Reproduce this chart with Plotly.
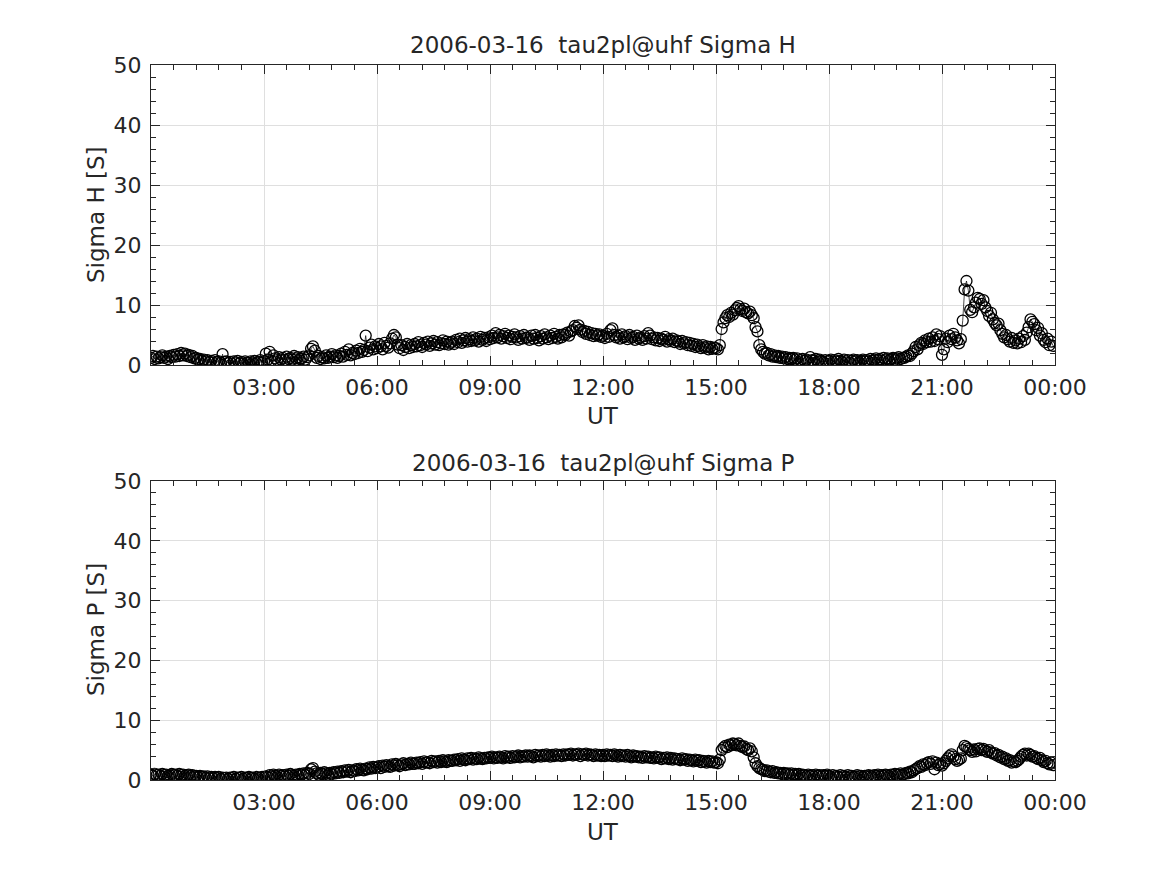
import pandas as pd
import plotly.graph_objects as go

# ---- data (3-minute samples, 2006-03-16), one row per hour ----
date_str = "2006-03-16"
sample_freq = "3min"

sigma_h = [
    1.2,1.5,1.0,1.4,1.1,1.3,1.6,1.2,1.4,1.0,1.5,1.3,1.7,1.4,1.8,1.5,2.0,1.6,1.9,1.5,
    1.7,1.3,1.5,1.1,1.2,0.9,1.0,0.7,0.9,0.6,0.8,0.5,0.7,0.4,0.8,0.5,0.6,0.4,1.8,0.5,
    0.6,0.3,0.5,0.2,0.6,0.4,0.7,0.3,0.5,0.2,0.6,0.4,0.3,0.6,0.4,0.7,0.3,0.5,0.8,0.4,
    0.6,1.9,0.9,2.2,0.7,1.6,1.1,0.8,1.3,0.9,1.2,0.8,1.4,1.0,1.2,0.9,1.5,1.1,1.3,1.0,
    1.1,1.4,0.9,1.3,1.6,2.7,3.1,2.4,1.2,1.5,1.0,1.3,1.1,1.6,1.2,1.4,1.8,1.3,1.6,1.2,
    1.5,1.9,1.4,2.2,1.7,2.6,1.6,2.0,1.8,2.4,2.0,2.7,2.2,2.5,4.9,2.3,2.9,3.4,2.6,3.1,
    2.8,3.5,3.1,2.6,3.7,3.2,2.9,3.6,4.4,5.0,4.6,3.4,2.8,3.3,2.5,3.0,3.5,2.8,3.3,3.0,
    3.5,3.1,3.8,3.3,3.0,3.7,3.4,3.9,3.2,3.6,4.0,3.4,3.8,3.3,3.6,4.1,3.5,3.9,3.4,3.7,
    3.9,3.5,4.2,3.8,4.4,3.7,4.1,4.5,3.9,4.3,4.0,4.6,4.1,4.4,3.9,4.7,4.2,4.5,4.0,4.6,
    4.3,4.9,4.5,5.3,4.6,5.0,4.4,4.8,5.2,4.5,4.9,4.3,4.7,5.1,4.6,4.2,4.8,4.4,5.0,4.5,
    4.6,4.2,4.9,4.4,5.0,4.5,4.1,4.8,4.4,5.1,4.6,4.3,4.9,4.5,5.2,4.7,4.4,5.0,4.6,5.1,
    5.0,5.4,4.9,5.6,5.8,6.5,6.2,6.6,5.9,5.5,5.7,5.2,5.5,5.0,5.3,4.8,5.2,4.9,5.1,4.7,
    4.9,4.5,5.2,4.7,5.8,6.1,5.0,4.6,4.9,4.4,5.1,4.6,4.8,4.3,5.0,4.5,4.7,4.2,4.9,4.4,
    4.6,4.2,4.8,4.4,5.3,4.9,4.3,4.6,4.1,4.5,4.0,4.4,4.2,4.7,3.9,4.3,4.0,4.4,3.8,4.1,
    3.9,3.5,4.0,3.6,3.8,3.3,3.7,3.2,3.5,3.0,3.4,3.1,2.8,3.3,2.9,3.1,2.6,3.0,2.7,2.9,
    2.8,2.6,3.3,6.0,7.1,7.8,8.3,8.0,8.7,8.4,9.1,9.5,9.8,9.3,9.0,9.4,8.8,8.6,8.9,8.3,
    7.8,6.3,5.6,3.3,2.6,2.2,1.9,2.0,1.6,1.8,1.4,1.6,1.3,1.5,1.2,1.4,1.1,1.3,1.0,1.2,
    1.0,1.2,0.9,1.1,0.2,0.8,1.0,0.7,0.9,0.6,1.3,0.8,0.7,1.0,0.6,0.9,0.7,0.5,0.8,0.6,
    0.7,0.9,0.5,0.8,0.6,1.0,0.7,0.5,0.9,0.6,0.8,0.4,0.7,0.9,0.6,0.8,0.5,0.7,0.9,0.6,
    0.8,0.6,1.0,0.7,0.9,1.1,0.8,1.0,0.7,1.2,0.9,1.1,0.8,1.0,1.2,0.9,1.1,1.3,1.0,1.2,
    1.2,1.4,1.6,1.5,1.9,2.3,3.0,2.6,3.3,3.7,3.5,4.1,3.8,4.4,3.9,4.6,4.0,5.1,4.3,4.8,
    1.7,2.6,4.4,3.8,4.9,4.3,5.2,4.6,4.1,3.6,4.3,7.4,12.6,14.0,12.4,9.2,8.8,9.6,10.4,11.2,
    11.0,10.2,10.8,9.6,9.0,8.2,8.7,7.6,7.0,6.6,6.9,5.8,5.2,4.6,5.0,4.3,3.9,4.5,3.7,4.1,
    3.6,4.4,3.8,4.8,4.2,5.4,6.3,7.6,7.2,6.8,5.8,6.2,4.9,5.3,4.2,3.8,4.4,3.3,3.9,3.2,
]

sigma_p = [
    0.9,0.7,1.0,0.8,0.9,0.7,1.0,0.8,0.9,0.7,0.8,1.0,0.8,0.9,0.7,1.0,0.8,0.9,0.7,0.8,
    0.9,0.7,0.8,0.6,0.7,0.5,0.7,0.5,0.6,0.4,0.6,0.4,0.5,0.3,0.5,0.3,0.5,0.2,0.4,0.3,
    0.4,0.2,0.4,0.3,0.5,0.2,0.4,0.3,0.5,0.2,0.4,0.3,0.5,0.3,0.4,0.2,0.5,0.3,0.4,0.5,
    0.4,0.6,0.5,0.8,0.6,0.9,0.7,0.6,0.9,0.7,0.8,0.6,0.9,0.7,1.0,0.8,0.7,0.9,0.8,1.0,
    0.9,1.1,0.8,1.2,1.0,1.8,2.0,1.4,1.1,0.9,1.2,1.0,1.3,1.1,0.9,1.2,1.0,1.3,1.1,1.4,
    1.2,1.5,1.3,1.6,1.4,1.7,1.3,1.6,1.5,1.8,1.6,1.9,1.7,1.6,1.9,1.8,2.1,1.9,2.2,2.0,
    2.1,2.3,2.0,2.4,2.2,2.5,2.3,2.2,2.6,2.4,2.7,2.5,2.3,2.6,2.8,2.5,2.7,2.6,2.9,2.7,
    2.7,2.9,2.8,3.0,2.7,3.1,2.9,3.0,2.8,3.2,3.0,3.1,2.9,3.2,3.0,3.3,3.1,3.0,3.3,3.2,
    3.2,3.4,3.3,3.5,3.2,3.6,3.4,3.3,3.6,3.5,3.7,3.4,3.6,3.5,3.8,3.6,3.5,3.7,3.6,3.8,
    3.7,3.9,3.6,3.8,3.7,3.9,3.8,3.6,4.0,3.8,3.9,3.7,4.0,3.8,3.9,4.1,3.8,4.0,3.9,4.1,
    3.9,4.1,4.0,3.8,4.2,4.0,4.1,3.9,4.2,4.0,4.3,4.1,3.9,4.2,4.0,4.3,4.1,4.2,4.0,4.3,
    4.1,4.3,4.2,4.4,4.1,4.3,4.2,4.4,4.0,4.3,4.2,4.4,4.1,4.3,4.2,4.0,4.3,4.1,4.2,4.0,
    4.2,4.0,4.3,4.1,4.2,4.0,4.3,4.1,3.9,4.2,4.0,4.1,3.9,4.2,4.0,3.8,4.1,3.9,4.0,3.8,
    3.9,3.7,4.0,3.8,3.9,3.7,3.8,3.6,3.9,3.7,3.8,3.5,3.7,3.6,3.8,3.5,3.7,3.4,3.6,3.5,
    3.5,3.3,3.6,3.4,3.5,3.2,3.4,3.3,3.1,3.4,3.2,3.3,3.0,3.2,3.1,2.9,3.2,3.0,3.1,2.9,
    3.0,2.8,3.4,5.0,5.4,5.7,5.5,5.9,5.8,6.1,6.0,5.8,6.1,5.7,5.5,5.6,5.2,5.0,5.3,4.8,
    3.8,2.8,2.3,2.0,1.8,1.7,1.5,1.6,1.4,1.3,1.5,1.2,1.3,1.1,1.2,1.0,1.2,1.0,1.1,0.9,
    1.1,0.9,1.0,0.8,1.0,0.7,0.9,0.8,0.6,0.9,0.7,0.8,0.6,0.9,0.7,0.8,0.6,0.8,0.7,0.9,
    0.7,0.5,0.8,0.6,0.7,0.5,0.8,0.6,0.7,0.5,0.8,0.6,0.7,0.5,0.6,0.8,0.6,0.7,0.5,0.7,
    0.6,0.8,0.7,0.6,0.8,0.7,0.9,0.6,0.8,0.7,0.9,0.8,0.7,0.9,0.8,1.0,0.8,0.9,1.1,0.9,
    1.0,1.2,1.1,1.4,1.3,1.6,1.8,2.0,2.3,2.2,2.6,2.5,2.8,3.0,2.7,3.1,1.8,2.9,2.5,2.7,
    2.4,2.8,3.2,3.6,4.0,4.3,3.9,3.5,3.2,3.4,3.6,5.0,5.7,5.5,5.2,5.0,4.7,5.1,4.8,5.2,
    5.3,5.0,5.2,4.9,4.7,5.0,4.6,4.4,4.5,4.1,4.2,3.8,3.9,3.5,3.6,3.2,3.3,2.9,3.1,3.0,
    3.2,3.5,3.9,4.2,4.4,4.1,4.4,4.2,3.9,4.0,3.7,3.5,3.7,3.3,3.0,3.2,2.8,2.6,2.9,2.5,
]

tick_hours = [3, 6, 9, 12, 15, 18, 21, 24]
tick_text = ["03:00", "06:00", "09:00", "12:00", "15:00", "18:00", "21:00", "00:00"]
y_ticks = [0, 10, 20, 30, 40, 50]
titles = ["2006-03-16  tau2pl@uhf Sigma H", "2006-03-16  tau2pl@uhf Sigma P"]
y_labels = ["Sigma H [S]", "Sigma P [S]"]

# ---- figure ----
t0 = pd.Timestamp(date_str)
tick_vals = [t0 + pd.Timedelta(hours=h) for h in tick_hours]
x_range = [t0, t0 + pd.Timedelta(hours=24)]

W, H = 1167, 875
OFF = 8  # page body margin
FONT = "DejaVu Sans"
TXT = "#262626"
GRID = "#dfdfdf"


def fx(px):
    return (px - OFF) / W


def fy(py):
    return 1 - (py - OFF) / H


fig = go.Figure()
for i, vals in enumerate([sigma_h, sigma_p]):
    sfx = "" if i == 0 else "2"
    times = pd.date_range(date_str, periods=len(vals), freq=sample_freq)
    fig.add_trace(go.Scatter(
        x=times, y=vals, mode="lines+markers",
        xaxis="x" + sfx, yaxis="y" + sfx,
        line=dict(color="black", width=0.7),
        marker=dict(symbol="circle-open", size=11, color="black",
                    line=dict(color="black", width=1.3)),
        showlegend=False, hoverinfo="x+y",
    ))

x_dom = [fx(151), fx(1055)]
y_doms = [[fy(365), fy(65)], [fy(780), fy(481)]]


def xaxis_cfg(anchor, dom):
    return dict(
        domain=dom, anchor=anchor, type="date", range=x_range,
        automargin=False,
        tickmode="array", tickvals=tick_vals, ticktext=tick_text,
        ticks="inside", ticklen=9, tickwidth=1, tickcolor=TXT,
        showline=True, linecolor=TXT, linewidth=1, mirror="ticks",
        showgrid=True, gridcolor=GRID, gridwidth=1, zeroline=False,
        tickfont=dict(family=FONT, size=22, color=TXT),
        ticklabelstandoff=3,
        minor=dict(ticks="inside", ticklen=5, tickcolor=TXT, tickwidth=1,
                   dtick=36 * 60 * 1000, tick0=t0, showgrid=False),
    )


def yaxis_cfg(anchor, dom):
    return dict(
        domain=dom, anchor=anchor, range=[0, 50],
        automargin=False,
        tickmode="array", tickvals=y_ticks,
        ticks="inside", ticklen=9, tickwidth=1, tickcolor=TXT,
        showline=True, linecolor=TXT, linewidth=1, mirror="ticks",
        showgrid=True, gridcolor=GRID, gridwidth=1, zeroline=False,
        tickfont=dict(family=FONT, size=22, color=TXT),
        ticklabelstandoff=4,
        minor=dict(ticks="inside", ticklen=5, tickcolor=TXT, tickwidth=1,
                   dtick=2, tick0=0, showgrid=False),
    )


fig.update_layout(
    width=W, height=H,
    margin=dict(l=0, r=0, t=0, b=0, pad=0),
    paper_bgcolor="white", plot_bgcolor="white",
    xaxis=xaxis_cfg("y", x_dom),
    yaxis=yaxis_cfg("x", y_doms[0]),
    xaxis2=xaxis_cfg("y2", x_dom),
    yaxis2=yaxis_cfg("x2", y_doms[1]),
)

ann_font = dict(family=FONT, size=23, color=TXT)
title_y = [45, 463]
ut_y = [416, 832]
ylab_y = [215, 630]
for i in range(2):
    fig.add_annotation(text=titles[i], xref="paper", yref="paper",
                       x=fx(603), y=fy(title_y[i]), xanchor="center",
                       yanchor="middle", showarrow=False, font=ann_font)
    fig.add_annotation(text="UT", xref="paper", yref="paper",
                       x=fx(603), y=fy(ut_y[i]), xanchor="center",
                       yanchor="middle", showarrow=False, font=ann_font)
    fig.add_annotation(text=y_labels[i], xref="paper", yref="paper",
                       x=fx(96), y=fy(ylab_y[i]), xanchor="center",
                       yanchor="middle", showarrow=False, font=ann_font,
                       textangle=-90)

fig.write_html("out.html")
